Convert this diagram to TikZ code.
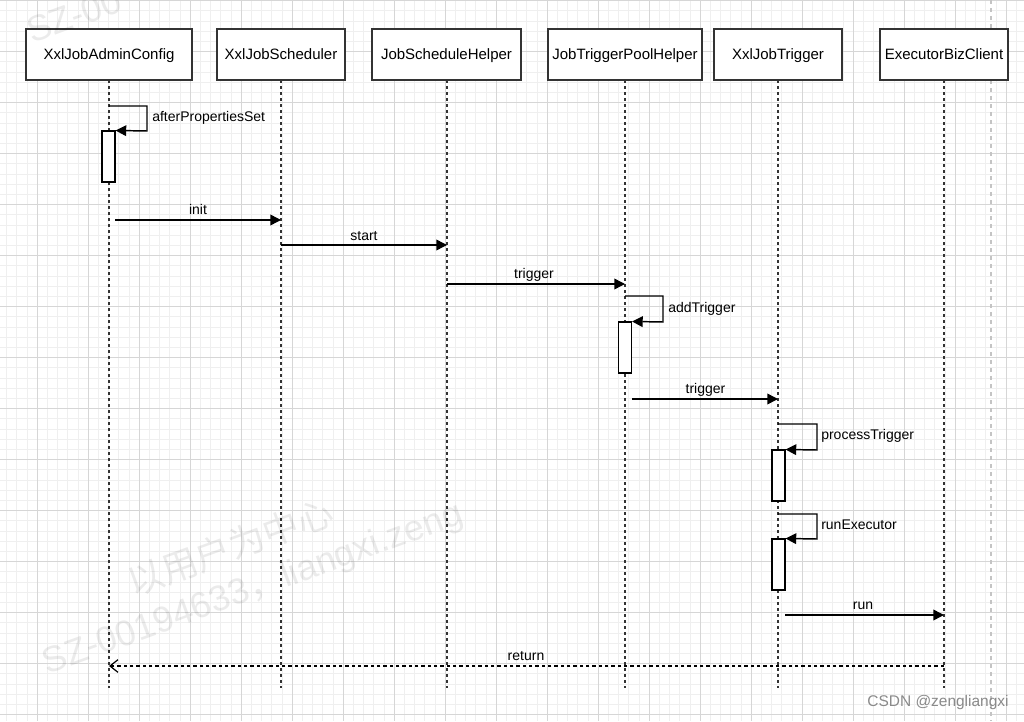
\documentclass[tikz,border=0pt]{standalone}
\usepackage{fontspec}
\setmainfont{Liberation Sans}
\newfontfamily\cjk{Noto Sans CJK SC}
\usetikzlibrary{arrows.meta,calc}
\definecolor{gridminor}{HTML}{EFEFEF}
\definecolor{gridmajor}{HTML}{D6D6D6}
\definecolor{boxline}{HTML}{333333}
\definecolor{pageline}{HTML}{C4C4C4}
\definecolor{csdn}{HTML}{8A8A8A}
\tikzset{
  actor/.style={draw=boxline, line width=1pt, fill=white, minimum height=38.25pt, inner sep=0pt, text height=8pt, text depth=0pt, font=\fontsize{11.25}{13}\selectfont},
  life/.style={boxline, line width=1.1pt, dash pattern=on 2.25pt off 2.25pt},
  actbox/.style={draw=black, line width=0.8pt, fill=white, minimum width=9.75pt, minimum height=38.25pt, inner sep=0pt},
  msg/.style={line width=1.1pt, -{Triangle[length=8pt,width=8pt]}},
  ret/.style={line width=1.1pt, dash pattern=on 2.5pt off 2.25pt, -{Straight Barb[length=6pt,width=9.5pt,line width=0.9pt]}},
  lbl/.style={font=\fontsize{10.5}{12}\selectfont, inner sep=0pt, text height=7.6pt, text depth=0pt},
  wmtext/.style={font=\fontsize{27}{30}\selectfont, text=black, text opacity=0.08, inner sep=0pt, rotate=20},
}
\begin{document}
\begin{tikzpicture}[x=0.75pt,y=-0.75pt]
\useasboundingbox (0,0) rectangle (1024,721);
\clip (0,0) rectangle (1024,721);
\fill[white] (0,0) rectangle (1024,721);
% grid
\foreach \i in {0,...,103} {\draw[gridminor, line width=0.75pt] ({-13.7+10.2*\i},0) -- ++(0,721);}
\foreach \j in {0,...,71} {\draw[gridminor, line width=0.75pt] (0,{0.7+10.2*\j}) -- ++(1024,0);}
\foreach \i in {0,...,21} {\draw[gridmajor, line width=0.75pt] ({-13.7+51*\i},0) -- ++(0,721);}
\foreach \j in {0,...,14} {\draw[gridmajor, line width=0.75pt] (0,{0.7+51*\j}) -- ++(1024,0);}
% page border line
\draw[pageline, line width=0.9pt, dash pattern=on 3pt off 3pt] (991,0) -- (991,721);

% lifeline ends
\coordinate (e1) at (109,688);
\coordinate (e2) at (281,688);
\coordinate (e3) at (447,688);
\coordinate (e4) at (625,688);
\coordinate (e5) at (778,688);
\coordinate (e6) at (944,688);
\coordinate (t1) at (109,80);
\coordinate (t2) at (281,80);
\coordinate (t3) at (447,80);
\coordinate (t4) at (625,80);
\coordinate (t5) at (778,80);
\coordinate (t6) at (944,80);
\foreach \k in {1,...,6} {\draw[life] (t\k) -- (e\k);}

% participants
\node[actor, minimum width=124.5pt] (h1) at (109,54.5) {XxlJobAdminConfig};
\node[actor, minimum width=96pt] (h2) at (281,54.5) {XxlJobScheduler};
\node[actor, minimum width=111.75pt] (h3) at (446.5,54.5) {JobScheduleHelper};
\node[actor, minimum width=115.5pt] (h4) at (625,54.5) {JobTriggerPoolHelper};
\node[actor, minimum width=96pt] (h5) at (778,54.5) {XxlJobTrigger};
\node[actor, minimum width=96pt] (h6) at (944,54.5) {ExecutorBizClient};

% activation boxes
\node[actbox] (a1) at (108.5,156.5) {};
\node[actbox] (a2) at (625,347.5) {};
\node[actbox] (a3) at (778.5,475.5) {};
\node[actbox] (a4) at (778.5,564.5) {};

% self calls
\coordinate (s1) at (109,106);
\draw[msg] (s1) -- (147,106) -- (147,131) -- (a1.north east);
\node[lbl, anchor=west] (l1) at (152,116.5) {afterPropertiesSet};

\coordinate (s2) at (625,296);
\draw[msg] (s2) -- (663,296) -- (663,322) -- (a2.north east);
\node[lbl, anchor=west] (l2) at (668,307) {addTrigger};

\coordinate (s3) at (778,424);
\draw[msg] (s3) -- (817,424) -- (817,450) -- (a3.north east);
\node[lbl, anchor=west] (l3) at (821,434) {processTrigger};

\coordinate (s4) at (778,514);
\draw[msg] (s4) -- (817,514) -- (817,539) -- (a4.north east);
\node[lbl, anchor=west] (l4) at (821,524) {runExecutor};

% messages
\coordinate (m1a) at (115,220); \coordinate (m1b) at (281,220);
\draw[msg] (m1a) -- (m1b);
\node[lbl] (l5) at (198,209.5) {init};

\coordinate (m2a) at (281,245); \coordinate (m2b) at (447,245);
\draw[msg] (m2a) -- (m2b);
\node[lbl] (l6) at (364,235) {start};

\coordinate (m3a) at (447,284); \coordinate (m3b) at (625,284);
\draw[msg] (m3a) -- (m3b);
\node[lbl] (l7) at (534,273) {trigger};

\coordinate (m4a) at (632,399); \coordinate (m4b) at (778,399);
\draw[msg] (m4a) -- (m4b);
\node[lbl] (l8) at (705.5,388) {trigger};

\coordinate (m5a) at (785,615); \coordinate (m5b) at (944,615);
\draw[msg] (m5a) -- (m5b);
\node[lbl] (l9) at (863,604) {run};

\coordinate (m6a) at (944,666); \coordinate (m6b) at (109,666);
\draw[ret] (m6a) -- (m6b);
\node[lbl] (l10) at (526,655) {return};

% watermarks
\node[wmtext] (w1) at (230,547) {\cjk 以用户为中心};
\node[wmtext] (w2) at (253,590) {SZ-00194633{\cjk ，}liangxi.zeng};
\node[wmtext, anchor=base west] (w3) at (32,44) {SZ-00};

\node[font=\fontsize{11.6}{13}\selectfont, text=csdn, inner sep=0pt] (c1) at (938,702) {CSDN @zengliangxi};
\end{tikzpicture}
\end{document}
